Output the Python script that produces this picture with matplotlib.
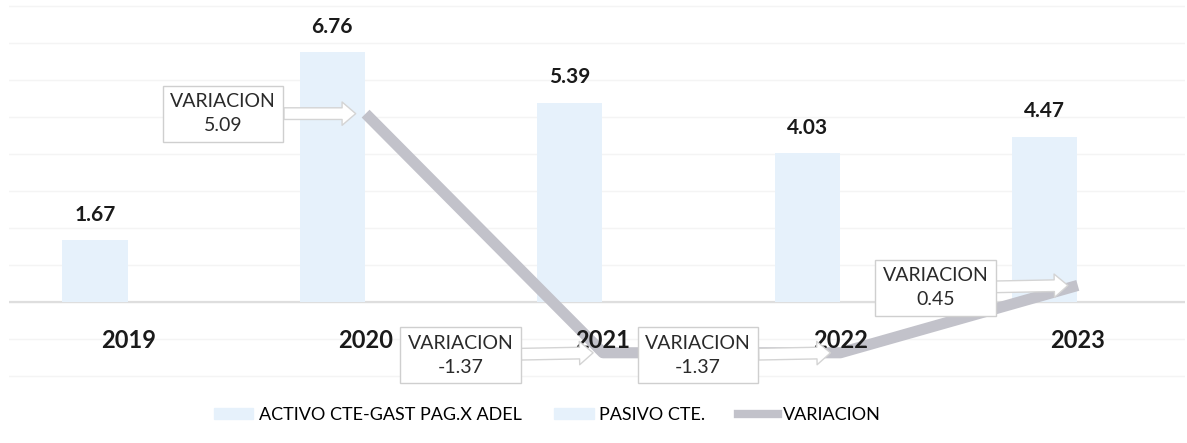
import matplotlib
matplotlib.use("Agg")
import matplotlib.pyplot as plt
from matplotlib.patches import Patch
from matplotlib.lines import Line2D
import numpy as np

plt.rcParams["font.family"] = ["Lato", "DejaVu Sans"]

# Datos
years = ["2019", "2020", "2021", "2022", "2023"]
activo = [1.67, 6.76, 5.39, 4.03, 4.47]
var_years = ["2020", "2021", "2022", "2023"]
variacion = [5.09, -1.37, -1.37, 0.45]

bar_color = "#e6f1fb"
line_color = "#c2c2ca"

fig = plt.figure(figsize=(11.87, 4.43), dpi=100)
ax = fig.add_axes([0.008, 0.131, 0.99, 0.869])

x = np.arange(len(years))
offset = 0.14
width = 0.275

# gridlines tenues
for g in range(-2, 9):
    ax.axhline(g, color="#f4f4f4", lw=1.0, zorder=0)
ax.axhline(0, color="#dedede", lw=1.6, zorder=1)

ax.bar(x - offset, activo, width=width, color=bar_color, zorder=2)
for xi, v in zip(x, activo):
    ax.annotate(f"{v:.2f}", (xi - offset, v), xytext=(0, 11), textcoords="offset points",
                ha="center", va="bottom", fontsize=15, fontweight="bold", color="#1a1a1a")

# línea de variación
vx = [years.index(y) for y in var_years]
ax.plot(vx, variacion, color=line_color, lw=8, solid_capstyle="butt", zorder=3)

# etiquetas de categoría
for xi, yr in zip(x, years):
    ax.text(xi, -1.03, yr, ha="center", va="center", fontsize=17,
            fontweight="bold", color="#1a1a1a", zorder=4)

# rótulos de variación
for xi, v in zip(vx, variacion):
    dy = 0 if v > 2 else -0.07
    ax.annotate(f"VARIACION\n{v:.2f}", (xi - 0.03, v), xytext=(xi - 0.6, v + dy),
                textcoords="data", ha="center", va="center", fontsize=14, color="#2a2a2a",
                linespacing=1.5, zorder=5,
                bbox=dict(boxstyle="square,pad=0.38", fc="white", ec="#cfcfcf", lw=1),
                arrowprops=dict(arrowstyle="simple,head_length=0.7,head_width=1.2,tail_width=0.6",
                                fc="white", ec="#d4d4d4", lw=1, shrinkA=0, shrinkB=2))

ax.set_xlim(-0.5, 4.45)
ax.set_ylim(-2.24, 8.16)
ax.axis("off")

handles = [Patch(color=bar_color), Patch(color=bar_color),
           Line2D([0], [0], color=line_color, lw=6)]
labels = ["ACTIVO CTE-GAST PAG.X ADEL", "PASIVO CTE.", "VARIACION"]
fig.legend(handles, labels, loc="center", bbox_to_anchor=(0.461, 0.063), ncol=3,
           frameon=False, fontsize=13, handlelength=2.2, handleheight=0.6,
           columnspacing=1.8, handletextpad=0.3)

fig.savefig("out.png", dpi=100)
